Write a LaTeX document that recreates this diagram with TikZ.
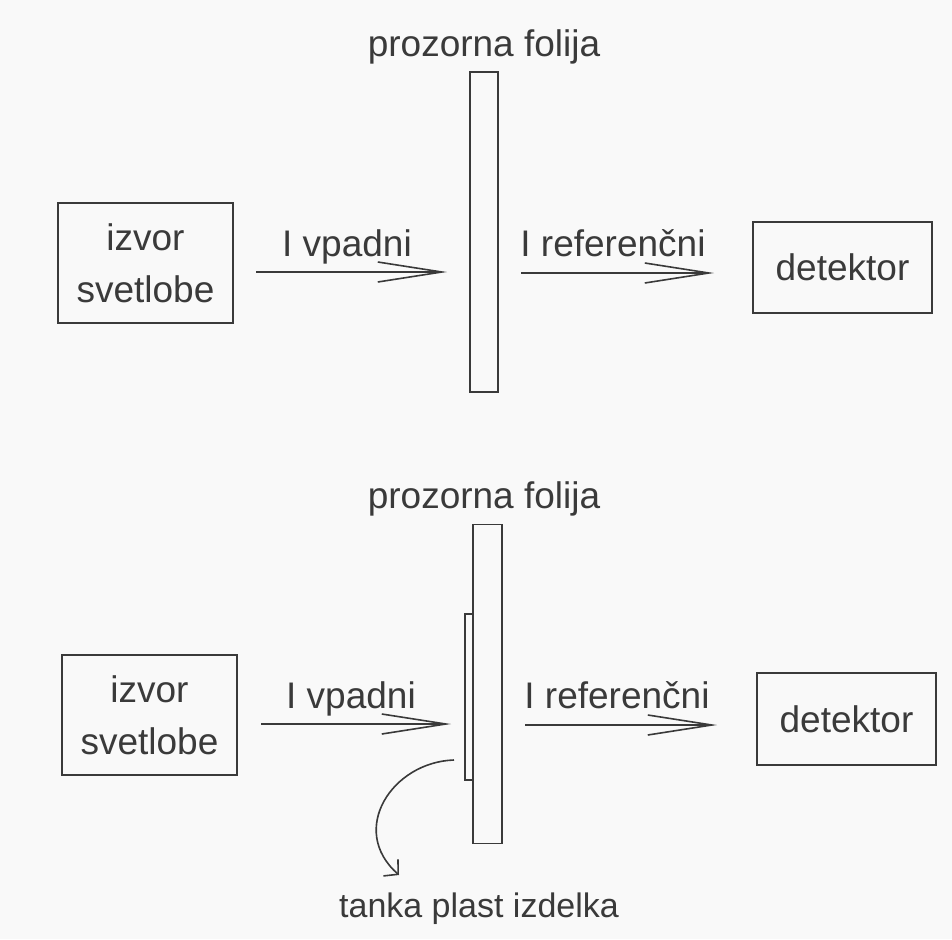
\documentclass[tikz,border=0pt]{standalone}
\usepackage{fontspec}
\setmainfont{Liberation Sans}
\usetikzlibrary{arrows.meta}
\definecolor{bg}{HTML}{F9F9F9}
\definecolor{ink}{HTML}{3A3A3A}
\begin{document}
\begin{tikzpicture}[x=1pt,y=-1pt,
  every node/.style={text=ink,font=\fontsize{37}{52}\selectfont},
  boxst/.style={draw=ink,line width=1.6pt,inner sep=0pt},
  beam/.style={draw=ink,line width=1.6pt,-{Straight Barb[length=64pt,width=20pt,line width=1.6pt]}},
  lbl/.style={anchor=base}]
\fill[bg] (0,0) rectangle (952,939);
\useasboundingbox (0,0) rectangle (952,939);
% ---------- top ----------
\node[boxst,minimum width=175pt,minimum height=120pt] (src1) at (145.5,263) {};
\node[align=center] (src1t) at (src1.center) {izvor\\svetlobe};
\node[boxst,minimum width=28pt,minimum height=320pt] (foil1) at (484,232) {};
\node[lbl] (foil1l) at (484,57) {prozorna folija};
\node[boxst,minimum width=179pt,minimum height=91pt] (det1) at (842.5,267.5) {};
\node (det1t) at (det1.center) {detektor};
\coordinate (a1s) at (256,272);
\coordinate (a1e) at (447,272);
\coordinate (b1s) at (521,273);
\coordinate (b1e) at (714,273);
\draw[beam] (a1s) -- (a1e);
\draw[beam] (b1s) -- (b1e);
\node[lbl] (a1l) at (347,256) {I vpadni};
\node[lbl] (b1l) at (613,256) {I referenčni};
% ---------- bottom ----------
\node[boxst,minimum width=175pt,minimum height=120pt] (src2) at (149.5,715) {};
\node[align=center] (src2t) at (src2.center) {izvor\\svetlobe};
\node[boxst,minimum width=29pt,minimum height=319pt] (foil2) at (487.5,684) {};
\node[boxst,minimum width=8pt,minimum height=166pt] (layer) at (469,697) {};
\node[lbl] (foil2l) at (484,508) {prozorna folija};
\node[boxst,minimum width=179pt,minimum height=92pt] (det2) at (846.5,719) {};
\node (det2t) at (det2.center) {detektor};
\coordinate (a2s) at (261,724);
\coordinate (a2e) at (451,724);
\coordinate (b2s) at (525,725);
\coordinate (b2e) at (717,725);
\draw[beam] (a2s) -- (a2e);
\draw[beam] (b2s) -- (b2e);
\node[lbl] (a2l) at (351,708) {I vpadni};
\node[lbl] (b2l) at (617,708) {I referenčni};
\coordinate (cs) at (454,760);
\coordinate (ce) at (399,875);
\draw[draw=ink,line width=1.6pt,-{Straight Barb[length=10pt,width=22pt,line width=1.6pt]}]
  (cs) .. controls (392,762) and (348,830) .. (ce);
\node[lbl,font=\fontsize{34}{40}\selectfont] (thin) at (479,917) {tanka plast izdelka};
\end{tikzpicture}
\end{document}
